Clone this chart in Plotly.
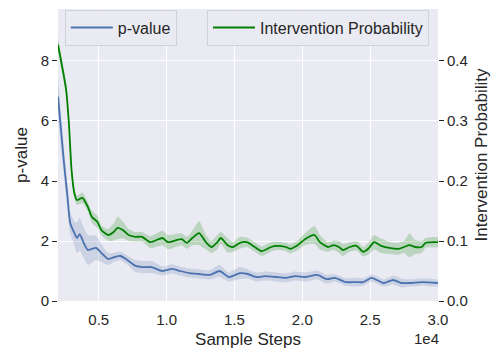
import plotly.graph_objects as go

# ---- data ----
p_steps = [2000, 2400, 2700, 2900, 3200, 3400, 3600, 3900, 4200, 4800, 5200, 5700, 6200, 6600, 7100, 7700,
           8300, 8900, 9700, 10400, 11000, 11700, 12400, 13200, 13900, 14600, 15400, 16000, 16600, 17300,
           18000, 18800, 19500, 20200, 21100, 21800, 22400, 23200, 23900, 24500, 25100, 26000, 26700, 27300,
           28000, 28800, 30000]
p_values = [6.81, 4.80, 3.47, 2.60, 2.27, 2.10, 2.23, 1.93, 1.70, 1.77, 1.60, 1.40, 1.47, 1.50, 1.37, 1.17,
            1.13, 1.13, 1.00, 1.07, 1.00, 0.93, 0.90, 0.87, 1.00, 0.80, 0.93, 0.90, 0.80, 0.83,
            0.80, 0.77, 0.83, 0.80, 0.87, 0.73, 0.77, 0.63, 0.63, 0.63, 0.77, 0.60, 0.70, 0.60,
            0.60, 0.63, 0.60]
p_err = [0.70, 0.50, 0.40, 0.35, 0.40, 0.50, 0.55, 0.50, 0.50, 0.40, 0.30, 0.20, 0.15, 0.15, 0.15, 0.20,
         0.20, 0.20, 0.15, 0.15, 0.15, 0.15, 0.15, 0.15, 0.20, 0.15, 0.20, 0.15, 0.15, 0.15,
         0.15, 0.15, 0.15, 0.15, 0.15, 0.15, 0.12, 0.12, 0.15, 0.12, 0.12, 0.12, 0.15, 0.15,
         0.12, 0.12, 0.10]

i_steps = [2000, 2600, 2800, 3000, 3200, 3400, 3800, 4200, 4500, 4900, 5200, 5700, 6100, 6400, 6800, 7200,
           7700, 8200, 8800, 9700, 10100, 11100, 11500, 11900, 12400, 12900, 13300, 13700, 14000, 14500,
           14900, 15400, 15900, 16500, 17000, 17700, 18100, 18800, 19100, 19600, 20200, 20900, 21300,
           21900, 22300, 22700, 23000, 23500, 24000, 24500, 24900, 25300, 25800, 26500, 27100, 27500,
           27900, 28300, 28800, 29100, 30000]
i_values = [0.427, 0.352, 0.297, 0.218, 0.180, 0.168, 0.172, 0.157, 0.140, 0.132, 0.118, 0.110, 0.115,
            0.122, 0.118, 0.110, 0.107, 0.107, 0.098, 0.105, 0.098, 0.103, 0.097, 0.105, 0.113, 0.098,
            0.090, 0.097, 0.105, 0.093, 0.090, 0.097, 0.098, 0.090, 0.083, 0.090, 0.092, 0.090, 0.087,
            0.092, 0.103, 0.110, 0.098, 0.090, 0.093, 0.090, 0.085, 0.090, 0.092, 0.082, 0.088, 0.098,
            0.092, 0.088, 0.087, 0.090, 0.093, 0.090, 0.090, 0.097, 0.098]
i_err = [0.012, 0.010, 0.009, 0.008, 0.008, 0.008, 0.009, 0.008, 0.010, 0.010, 0.008, 0.010, 0.014,
         0.019, 0.014, 0.010, 0.008, 0.008, 0.010, 0.012, 0.012, 0.010, 0.010, 0.012, 0.020, 0.012,
         0.010, 0.012, 0.010, 0.012, 0.008, 0.010, 0.008, 0.008, 0.008, 0.008, 0.007, 0.007, 0.008,
         0.008, 0.010, 0.015, 0.012, 0.008, 0.008, 0.010, 0.010, 0.008, 0.008, 0.008, 0.010, 0.012,
         0.012, 0.010, 0.010, 0.010, 0.020, 0.012, 0.010, 0.008, 0.008]

x_tickvals = [5000, 10000, 15000, 20000, 25000, 30000]
x_ticktext = ["0.5", "1.0", "1.5", "2.0", "2.5", "3.0"]
y1_ticks = [0, 2, 4, 6, 8]
y2_ticks = [0.0, 0.1, 0.2, 0.3, 0.4]

BLUE = "#4C72B0"
GREEN = "#008000"
TXT = "#262626"
FONT = "Liberation Sans, Arial, sans-serif"
SHAPE = dict(shape="spline", smoothing=0.6)

fig = go.Figure()

# p-value band
p_up = [v + e for v, e in zip(p_values, p_err)]
p_lo = [max(v - e, 0) for v, e in zip(p_values, p_err)]
fig.add_trace(go.Scatter(x=p_steps + p_steps[::-1], y=p_up + p_lo[::-1], fill="toself",
                         fillcolor="rgba(76,114,176,0.2)", line=dict(width=0, **SHAPE), hoverinfo="skip",
                         showlegend=False, yaxis="y"))
fig.add_trace(go.Scatter(x=p_steps, y=p_values, mode="lines", name="p-value",
                         line=dict(color=BLUE, width=1.8, **SHAPE), yaxis="y", legend="legend"))

# intervention band
i_up = [v + e for v, e in zip(i_values, i_err)]
i_lo = [v - e for v, e in zip(i_values, i_err)]
fig.add_trace(go.Scatter(x=i_steps + i_steps[::-1], y=i_up + i_lo[::-1], fill="toself",
                         fillcolor="rgba(0,128,0,0.2)", line=dict(width=0, **SHAPE), hoverinfo="skip",
                         showlegend=False, yaxis="y2"))
fig.add_trace(go.Scatter(x=i_steps, y=i_values, mode="lines", name="Intervention Probability",
                         line=dict(color=GREEN, width=1.8, **SHAPE), yaxis="y2", legend="legend2"))

Y1_TOP = 9.733

fig.update_layout(
    width=491, height=350,
    margin=dict(l=58, r=53, t=9, b=49),
    paper_bgcolor="white", plot_bgcolor="#EAEAF2",
    font=dict(family=FONT, size=15, color=TXT),
    xaxis=dict(range=[2000, 30000], tickvals=x_tickvals, ticktext=x_ticktext, automargin=False,
               showgrid=True, gridcolor="white", gridwidth=1.2, zeroline=False,
               showline=False, ticks="outside", ticklen=5, tickcolor="rgba(0,0,0,0)",
               tickfont=dict(size=15, color=TXT),
               title=dict(text="Sample Steps", font=dict(size=17, color=TXT), standoff=6)),
    yaxis=dict(range=[0, Y1_TOP], tickvals=y1_ticks, showgrid=True, gridcolor="white", gridwidth=1.2,
               automargin=False,
               zeroline=False, showline=False, ticks="outside", ticklen=5, tickcolor=TXT, tickwidth=1,
               tickfont=dict(size=15, color=TXT),
               title=dict(text="p-value", font=dict(size=17, color=TXT), standoff=8)),
    yaxis2=dict(range=[0, Y1_TOP / 20], tickvals=y2_ticks, tickformat=".1f", overlaying="y", side="right",
                automargin=False,
                showgrid=False, zeroline=False, showline=False, ticks="outside", ticklen=5, tickcolor=TXT,
                tickwidth=1, tickfont=dict(size=15, color=TXT),
                title=dict(text="Intervention Probability", font=dict(size=17, color=TXT), standoff=14)),
    legend=dict(x=0.018, y=0.998, xanchor="left", yanchor="top", bgcolor="#EAEAF2",
                bordercolor="#d2d2da", borderwidth=1, itemwidth=42, font=dict(size=16, color=TXT)),
    legend2=dict(x=0.392, y=0.998, xanchor="left", yanchor="top", bgcolor="#EAEAF2",
                 bordercolor="#d2d2da", borderwidth=1, itemwidth=42, font=dict(size=16, color=TXT)),
    annotations=[dict(text="1e4", xref="paper", yref="paper", x=0.970, y=-0.127, xanchor="center",
                      yanchor="middle", showarrow=False, font=dict(size=15, color=TXT))],
)

fig.write_html("out.html")
